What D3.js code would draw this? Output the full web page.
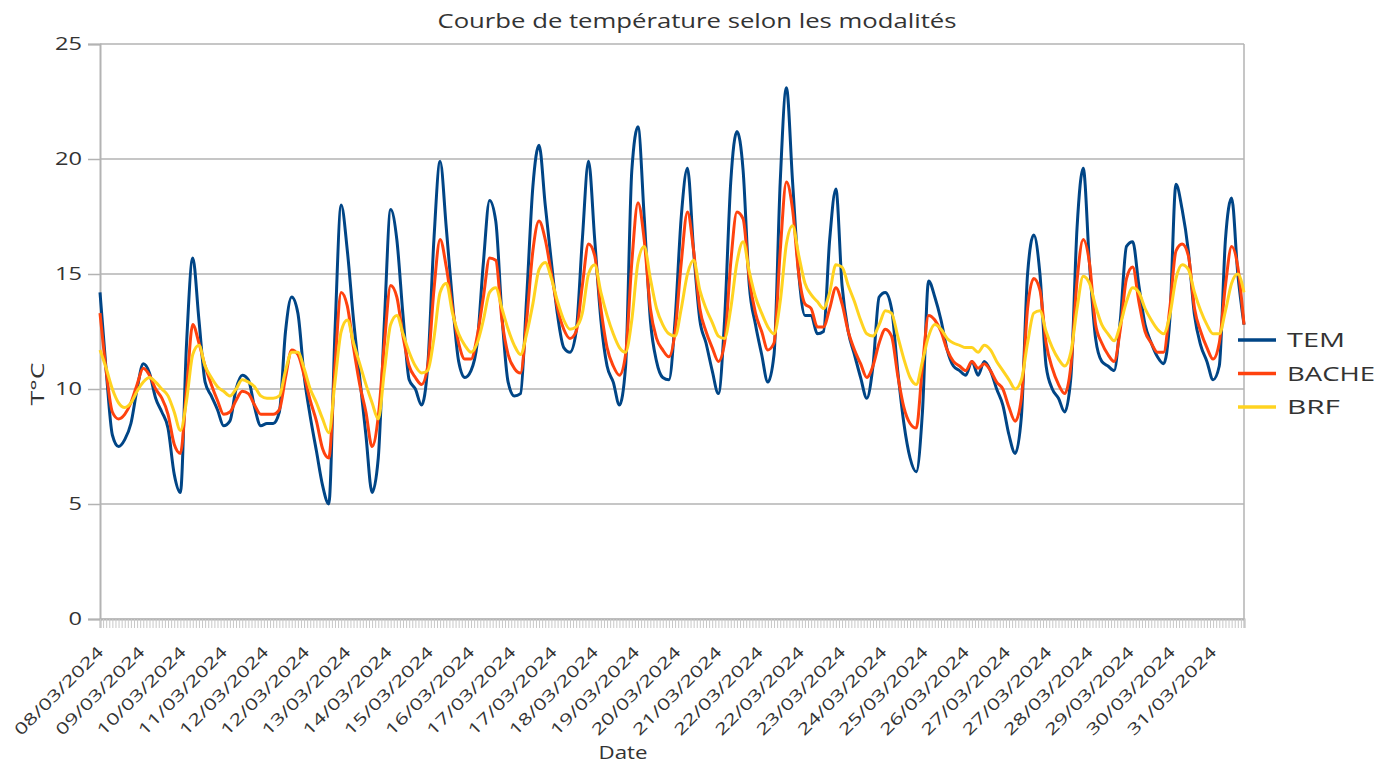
<!DOCTYPE html>
<html>
<head>
<meta charset="utf-8"/>
<title>Courbe de température selon les modalités</title>
<script src="https://d3js.org/d3.v7.min.js"></script>
<style>
    body { margin: 0; background: #fff; }
    text { font-family: "Open Sans", sans-serif; fill: #333; }
</style>
</head>
<body>
<svg id="chart" width="1392" height="764"></svg>
<script>
// relevés toutes les 3 heures à partir du 08/03/2024 17h
var startTime = new Date(2024, 2, 8, 17);
var stepHours = 3;

var tem = [
    14.2, 10.8, 8.0, 7.5, 7.8, 8.5, 10.0, 11.1, 10.7, 9.6,
    9.0, 8.3, 6.3, 5.5, 12.0, 15.7, 13.0, 10.3, 9.7, 9.1,
    8.4, 8.6, 10.0, 10.6, 10.4, 9.2, 8.4, 8.5, 8.5, 9.0,
    12.5, 14.0, 13.3, 10.6, 8.8, 7.3, 5.8, 5.0, 12.5, 18.0,
    16.0, 13.0, 10.5, 8.0, 5.5, 7.0, 13.0, 17.8, 16.5, 13.2,
    10.4, 10.0, 9.3, 11.0, 16.5, 19.9, 17.0, 13.8, 11.2, 10.5,
    10.8, 12.0, 15.5, 18.2, 17.3, 13.2, 10.3, 9.7, 9.8, 14.0,
    18.8, 20.6, 18.0, 15.5, 13.2, 11.8, 11.6, 12.5, 16.5, 19.9,
    16.5, 13.0, 11.0, 10.3, 9.3, 11.0, 19.5, 21.4, 17.5, 13.0,
    11.2, 10.5, 10.4, 13.0, 17.5, 19.6, 16.0, 13.0, 12.0, 10.8,
    9.8, 13.0, 19.0, 21.2, 19.5, 14.5, 12.8, 11.5, 10.3, 11.5,
    19.0, 23.1, 19.0, 15.0, 13.2, 13.2, 12.4, 12.5, 16.5, 18.7,
    14.5, 12.5, 11.5, 10.5, 9.6, 11.0, 14.0, 14.2, 13.5, 10.8,
    8.5, 7.0, 6.4, 9.0, 14.7, 14.0, 13.0, 11.7, 11.0, 10.8,
    10.6, 11.2, 10.6, 11.2, 10.8, 10.0, 9.3, 8.0, 7.2, 8.8,
    15.0, 16.7, 15.0, 11.0, 10.0, 9.6, 9.0, 10.5, 17.0, 19.6,
    15.5, 12.2, 11.2, 11.0, 10.8, 13.0, 16.2, 16.4, 14.5, 12.8,
    12.0, 11.4, 11.1, 13.0, 18.9, 17.8, 16.0, 13.2, 11.9, 11.2,
    10.4, 11.0, 16.5, 18.3, 15.0, 12.8
];

var bache = [
    13.3, 10.8, 9.0, 8.7, 8.9, 9.4, 10.2, 10.9, 10.6, 10.0,
    9.6, 8.9, 7.6, 7.2, 10.0, 12.8, 12.0, 11.0, 10.2, 9.5,
    8.9, 9.0, 9.5, 9.9, 9.8, 9.3, 8.9, 8.9, 8.9, 9.1,
    10.5, 11.7, 11.5, 10.6, 9.5, 8.6, 7.4, 7.0, 11.0, 14.2,
    13.6, 11.8, 10.2, 9.0, 7.5, 8.8, 12.0, 14.5, 14.0, 12.3,
    11.0, 10.5, 10.2, 11.0, 14.3, 16.5, 15.3, 13.5, 12.0, 11.3,
    11.3, 12.3, 14.0, 15.7, 15.6, 13.0, 11.5, 10.9, 10.7, 13.0,
    16.0, 17.3, 16.5, 15.0, 13.5, 12.6, 12.2, 12.5, 14.5, 16.3,
    15.8, 13.5, 11.8, 11.0, 10.6, 11.5, 15.5, 18.1, 16.5, 13.5,
    12.2, 11.7, 11.4, 12.5, 15.5, 17.7, 16.0, 13.5, 12.5, 11.8,
    11.2, 12.0, 15.5, 17.7, 17.4, 14.8, 13.3, 12.5, 11.7, 12.0,
    16.0, 19.0, 17.8, 15.0, 13.7, 13.5, 12.7, 12.7, 13.5, 14.4,
    13.7, 12.5, 11.7, 11.1, 10.5, 11.0, 12.0, 12.6, 12.3, 10.6,
    9.2, 8.5, 8.3, 11.0, 13.2, 13.0, 12.5, 11.7, 11.2, 11.0,
    10.8, 11.2, 10.9, 11.1, 10.8, 10.3, 10.0, 9.2, 8.6, 9.6,
    13.5, 14.8, 14.3, 12.0, 10.9, 10.2, 9.8, 11.0, 14.7, 16.5,
    15.5, 12.8, 12.0, 11.5, 11.2, 12.6, 14.8, 15.3, 13.8, 12.5,
    12.0, 11.6, 11.6, 13.5, 16.0, 16.3, 15.8, 13.5, 12.5, 11.8,
    11.3, 12.0, 14.5, 16.2, 15.3, 12.8
];

var brf = [
    11.7, 10.9, 10.0, 9.4, 9.2, 9.4, 9.9, 10.3, 10.5, 10.3,
    10.0, 9.7, 9.0, 8.2, 9.5, 11.5, 11.9, 11.0, 10.5, 10.1,
    9.9, 9.7, 10.0, 10.4, 10.3, 10.1, 9.7, 9.6, 9.6, 9.7,
    10.8, 11.6, 11.6, 10.9, 10.0, 9.4, 8.7, 8.1, 10.3, 12.5,
    13.0, 12.0, 11.1, 10.2, 9.4, 8.7, 10.8, 12.8, 13.2, 12.4,
    11.6, 11.0, 10.7, 10.8, 12.2, 14.2, 14.6, 13.3, 12.4, 11.9,
    11.6, 12.0, 13.0, 14.2, 14.4, 13.5, 12.6, 11.9, 11.5, 12.4,
    13.7, 15.2, 15.5, 14.8, 13.8, 13.0, 12.6, 12.7, 13.3, 15.0,
    15.4, 14.2, 13.2, 12.4, 11.8, 11.6, 13.0, 15.5, 16.2, 14.8,
    13.5, 12.8, 12.4, 12.3, 13.5, 15.0, 15.6, 14.3, 13.5, 12.9,
    12.3, 12.2, 13.5, 15.5, 16.4, 15.1, 14.0, 13.3, 12.7, 12.4,
    13.8, 16.3, 17.1, 15.8, 14.6, 14.1, 13.8, 13.5, 14.2, 15.4,
    15.3, 14.5, 13.8, 13.0, 12.4, 12.3, 12.8, 13.4, 13.3, 12.3,
    11.3, 10.5, 10.2, 11.2, 12.3, 12.8, 12.6, 12.2, 12.0, 11.9,
    11.8, 11.8, 11.6, 11.9, 11.7, 11.2, 10.8, 10.4, 10.0, 10.4,
    12.0, 13.3, 13.4, 12.5, 11.8, 11.3, 11.0, 11.6, 13.5, 14.9,
    14.6, 13.6, 12.8, 12.4, 12.1, 12.8, 13.8, 14.4, 14.2, 13.5,
    13.0, 12.6, 12.4, 13.2, 14.8, 15.4, 15.2, 14.2, 13.4, 12.8,
    12.4, 12.4, 13.4, 14.6, 15.0, 14.2
];

var seriesNames = ["TEM", "BACHE", "BRF"];
var seriesColors = ["#004586", "#ff420e", "#ffd320"];

// une étiquette de date toutes les 20 heures
var labelStepHours = 20;
var tickLabels = [
    "08/03/2024", "09/03/2024", "10/03/2024", "11/03/2024", "12/03/2024",
    "12/03/2024", "13/03/2024", "14/03/2024", "15/03/2024", "16/03/2024",
    "17/03/2024", "17/03/2024", "18/03/2024", "19/03/2024", "20/03/2024",
    "21/03/2024", "22/03/2024", "22/03/2024", "23/03/2024", "24/03/2024",
    "25/03/2024", "26/03/2024", "27/03/2024", "27/03/2024", "28/03/2024",
    "29/03/2024", "30/03/2024", "31/03/2024"
];
var yTicks = [0, 5, 10, 15, 20, 25];

var plotLeft = 100, plotRight = 1244, plotTop = 44, plotBottom = 619;
var grey = "#b3b3b3";
var svg = d3.select("#chart");

var hours = function(h) { return new Date(+startTime + h * 3600 * 1000); };
var times = tem.map(function(d, i) { return hours(i * stepHours); });
var x = d3.scaleTime().domain([times[0], times[times.length - 1]]).range([plotLeft, plotRight]);
var y = d3.scaleLinear().domain([0, 25]).range([plotBottom, plotTop]);

// quadrillage
svg.append("g").selectAll("line")
    .data(yTicks).enter().append("line")
    .attr("x1", plotLeft).attr("x2", plotRight)
    .attr("y1", y).attr("y2", y)
    .attr("stroke", grey).attr("stroke-width", 1.5);

svg.append("line")
    .attr("x1", plotRight).attr("x2", plotRight)
    .attr("y1", plotTop).attr("y2", plotBottom)
    .attr("stroke", grey).attr("stroke-width", 1.5);

// axe y
var yAxis = svg.append("g")
    .attr("transform", "translate(" + plotLeft + ",0)")
    .call(d3.axisLeft(y).tickValues(yTicks).tickSize(12).tickPadding(6));
yAxis.select(".domain").attr("stroke", grey).attr("stroke-width", 2);
yAxis.selectAll(".tick line").attr("stroke", grey).attr("stroke-width", 1.5);
yAxis.selectAll(".tick text")
    .attr("font-size", 18)
    .attr("fill", "#333")
    .attr("textLength", function(d) { return String(d).length * 13.5; })
    .attr("lengthAdjust", "spacingAndGlyphs");

// petites graduations de l'axe x (une par relevé horaire et demi)
var smallTicks = d3.range(0, (times.length - 1) * stepHours + 0.01, 1.5).map(hours);
var xAxis = svg.append("g")
    .attr("transform", "translate(0," + plotBottom + ")")
    .call(d3.axisBottom(x).tickValues(smallTicks).tickSize(9).tickFormat(""));
xAxis.select(".domain").attr("stroke", grey).attr("stroke-width", 2);
xAxis.selectAll(".tick line").attr("stroke", "#c8c8c8").attr("stroke-width", 1);

// étiquettes de dates
var labelTimes = tickLabels.map(function(d, k) { return hours(k * labelStepHours); });
var xLabels = svg.append("g")
    .attr("transform", "translate(0," + plotBottom + ")")
    .call(d3.axisBottom(x).tickValues(labelTimes).tickSize(0)
        .tickFormat(function(d, i) { return tickLabels[i]; }));
xLabels.select(".domain").remove();
xLabels.selectAll(".tick text")
    .attr("x", 0).attr("y", 0).attr("dy", "0.35em")
    .attr("text-anchor", "end")
    .attr("transform", "translate(0,30) rotate(-45)")
    .attr("font-size", 16)
    .attr("fill", "#333")
    .attr("textLength", 118)
    .attr("lengthAdjust", "spacingAndGlyphs");

// courbes
var line = d3.line()
    .x(function(d, i) { return x(times[i]); })
    .y(function(d) { return y(d); })
    .curve(d3.curveMonotoneX);

[tem, bache, brf].forEach(function(values, s) {
    svg.append("path")
        .datum(values)
        .attr("d", line)
        .attr("fill", "none")
        .attr("stroke", seriesColors[s])
        .attr("stroke-width", 3)
        .attr("stroke-linejoin", "round");
});

// titres
svg.append("text")
    .attr("x", 697).attr("y", 28)
    .attr("text-anchor", "middle")
    .attr("font-size", 20)
    .attr("textLength", 519)
    .attr("lengthAdjust", "spacingAndGlyphs")
    .text("Courbe de température selon les modalités");

svg.append("text")
    .attr("transform", "translate(44,384) rotate(-90)")
    .attr("text-anchor", "middle")
    .attr("font-size", 19)
    .attr("textLength", 43)
    .attr("lengthAdjust", "spacingAndGlyphs")
    .text("T°C");

svg.append("text")
    .attr("x", 623).attr("y", 759)
    .attr("text-anchor", "middle")
    .attr("font-size", 19)
    .attr("textLength", 49)
    .attr("lengthAdjust", "spacingAndGlyphs")
    .text("Date");

// légende
var legendWidths = [58, 88, 53];
var legend = svg.append("g").selectAll("g")
    .data(seriesNames).enter().append("g")
    .attr("transform", function(d, i) { return "translate(1238," + (340 + i * 33.5) + ")"; });
legend.append("line")
    .attr("x1", 0).attr("x2", 38)
    .attr("stroke", function(d, i) { return seriesColors[i]; })
    .attr("stroke-width", 3.5);
legend.append("text")
    .attr("x", 49).attr("dy", "0.35em")
    .attr("font-size", 20)
    .attr("textLength", function(d, i) { return legendWidths[i]; })
    .attr("lengthAdjust", "spacingAndGlyphs")
    .text(function(d) { return d; });
</script>
</body>
</html>
